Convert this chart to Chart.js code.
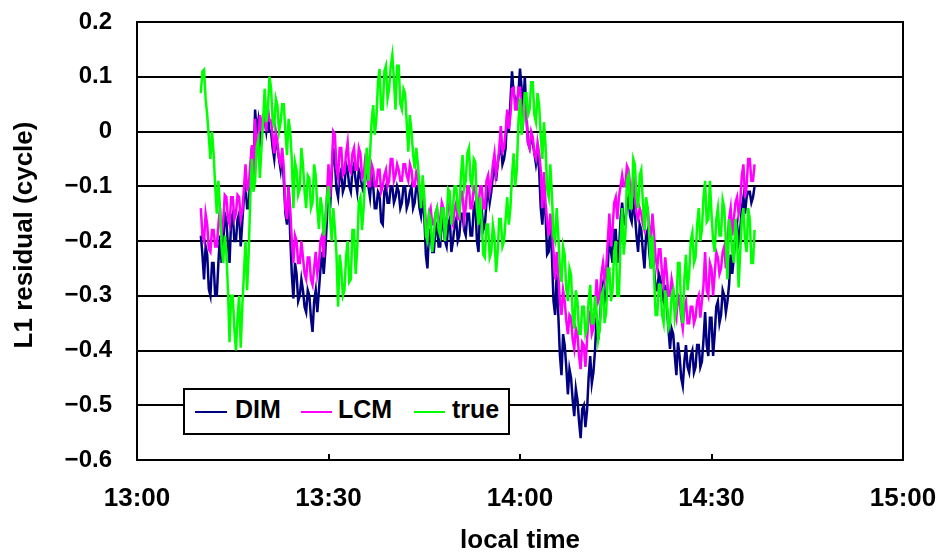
<!DOCTYPE html>
<html>
<head>
<meta charset="utf-8">
<script src="https://cdn.jsdelivr.net/npm/chart.js@4.4.1/dist/chart.umd.min.js"></script>
<style>
  html, body { margin: 0; padding: 0; background: #ffffff; }
  #wrap { position: relative; width: 941px; height: 556px; }
  #c { position: absolute; left: 0; top: 0; }
  #legend { position: absolute; left: 183px; top: 388px; width: 327px; height: 47px; box-sizing: border-box;
            border: 2px solid #000; background: #fff; }
  .sw { position: absolute; height: 2px; top: 21px; }
  .lt { position: absolute; top: 7px; font: bold 25px/25px "Liberation Sans", Arial, sans-serif; color: #000; white-space: nowrap; }
</style>
</head>
<body>
<div id="wrap">
  <canvas id="c" width="941" height="556"></canvas>
  <div id="legend">
    <div class="sw" style="left:10px;width:32px;background:#000080"></div><div class="lt" style="left:50px">DIM</div>
    <div class="sw" style="left:116px;width:31px;background:#ff00ff"></div><div class="lt" style="left:153px">LCM</div>
    <div class="sw" style="left:229px;width:31px;background:#00ff00"></div><div class="lt" style="left:267px">true</div>
  </div>
</div>
<script>
// sampling grid: minutes after 13:00
const startMin = 10;
const stepMin = 0.25;

const xTickValues = [0, 30, 60, 90, 120];
const xTickLabels = ['13:00', '13:30', '14:00', '14:30', '15:00'];
const yTickValues = [0.2, 0.1, 0, -0.1, -0.2, -0.3, -0.4, -0.5, -0.6];
const yTickLabels = ['0.2', '0.1', '0', '\u22120.1', '\u22120.2', '\u22120.3', '\u22120.4', '\u22120.5', '\u22120.6'];
const yTitle = 'L1 residual (cycle)';
const xTitle = 'local time';

const seriesNames = ['DIM', 'LCM', 'true'];

const dimValues = [
  -0.19,-0.225, -0.27,-0.21, -0.225,-0.288, -0.3,-0.24, -0.24,-0.3, -0.3,-0.24, -0.19,-0.24, -0.21,-0.15, -0.16,-0.21, -0.24,-0.16,
  -0.15,-0.2, -0.2,-0.16, -0.15,-0.21, -0.165,-0.12, -0.1,-0.14, -0.14,-0.08, -0.03,-0.08, 0.04,0.0, 0.02,-0.02, 0.0,0.02,
  0.02,0.0, 0.03,0.0, 0.0,-0.03, -0.05,-0.01, -0.03,-0.05, -0.07,-0.04, -0.09,-0.15, -0.17,-0.1, -0.19,-0.26, -0.305,-0.24,
  -0.26,-0.31, -0.3,-0.27, -0.29,-0.32, -0.33,-0.29, -0.3,-0.34, -0.366,-0.31, -0.29,-0.33, -0.29,-0.25, -0.22,-0.26, -0.22,-0.16,
  -0.08,-0.14, -0.08,-0.03, -0.056,-0.105, -0.12,-0.08, -0.07,-0.11, -0.1,-0.06, -0.07,-0.1, -0.11,-0.07, -0.06,-0.09, -0.11,-0.07,
  -0.08,-0.1, -0.11,-0.08, -0.07,-0.1, -0.12,-0.08, -0.1,-0.14, -0.14,-0.11, -0.116,-0.165, -0.17,-0.11, -0.1,-0.13, -0.13,-0.1,
  -0.1,-0.13, -0.12,-0.1, -0.11,-0.14, -0.13,-0.1, -0.1,-0.14, -0.13,-0.11, -0.1,-0.14, -0.13,-0.1, -0.1,-0.14, -0.155,-0.13,
  -0.15,-0.225, -0.25,-0.18, -0.18,-0.22, -0.22,-0.18, -0.17,-0.21, -0.21,-0.16, -0.17,-0.2, -0.21,-0.17, -0.16,-0.22, -0.2,-0.17,
  -0.16,-0.2, -0.19,-0.15, -0.15,-0.18, -0.19,-0.15, -0.15,-0.19, -0.19,-0.14, -0.13,-0.2, -0.22,-0.14, -0.14,-0.18, -0.17,-0.13,
  -0.1,-0.13, -0.11,-0.08, -0.06,-0.09, -0.06,-0.04, -0.02,-0.06, -0.05,-0.03, 0.035,0.0, 0.054,0.11, 0.07,0.06, 0.05,0.07,
  0.115,0.08, 0.04,0.1, 0.035,-0.02, -0.03,-0.01, -0.02,-0.04, -0.06,-0.04, -0.07,-0.14, -0.17,-0.12, -0.15,-0.225, -0.22,-0.17,
  -0.225,-0.31, -0.335,-0.26, -0.335,-0.408, -0.445,-0.37, -0.39,-0.43, -0.48,-0.434, -0.45,-0.49, -0.52,-0.47, -0.49,-0.53, -0.56,-0.507,
  -0.5,-0.54, -0.51,-0.45, -0.41,-0.46, -0.44,-0.4, -0.34,-0.38, -0.35,-0.3, -0.28,-0.31, -0.3,-0.25, -0.18,-0.22, -0.24,-0.18,
  -0.18,-0.24, -0.22,-0.16, -0.13,-0.165, -0.17,-0.13, -0.12,-0.155, -0.165,-0.13, -0.15,-0.19, -0.22,-0.17, -0.18,-0.22, -0.25,-0.19,
  -0.18,-0.22, -0.25,-0.21, -0.25,-0.29, -0.29,-0.26, -0.27,-0.3, -0.31,-0.28, -0.32,-0.36, -0.397,-0.36, -0.37,-0.41, -0.445,-0.385,
  -0.41,-0.45, -0.465,-0.42, -0.39,-0.43, -0.44,-0.41, -0.4,-0.44, -0.43,-0.39, -0.39,-0.43, -0.42,-0.38, -0.33,-0.39, -0.41,-0.34,
  -0.34,-0.41, -0.37,-0.32, -0.31,-0.35, -0.335,-0.29, -0.3,-0.33, -0.31,-0.28, -0.225,-0.26, -0.23,-0.19, -0.17,-0.2, -0.18,-0.14,
  -0.12,-0.15, -0.12,-0.11, -0.11,-0.13, -0.12,-0.1
];

const lcmValues = [
  -0.14,-0.19, -0.2,-0.15, -0.17,-0.215, -0.22,-0.18, -0.18,-0.21, -0.21,-0.17, -0.14,-0.19, -0.165,-0.116, -0.12,-0.16, -0.17,-0.12,
  -0.12,-0.16, -0.15,-0.116, -0.12,-0.16, -0.145,-0.105, -0.06,-0.105, -0.1,-0.06, -0.025,-0.08, 0.023,-0.032, -0.02,0.03, 0.0,0.03,
  0.03,0.0, 0.045,0.02, 0.02,-0.01, -0.04,0.0, -0.02,-0.05, -0.06,-0.03, -0.068,-0.14, -0.16,-0.1, -0.14,-0.2, -0.24,-0.19,
  -0.2,-0.24, -0.24,-0.2, -0.23,-0.26, -0.27,-0.23, -0.23,-0.27, -0.28,-0.25, -0.22,-0.26, -0.24,-0.2, -0.19,-0.23, -0.16,-0.12,
  -0.06,-0.12, -0.068,0.0, -0.006,-0.068, -0.085,-0.03, -0.03,-0.08, -0.075,-0.04, -0.02,-0.07, -0.075,-0.04, -0.03,-0.07, -0.07,-0.03,
  -0.04,-0.085, -0.08,-0.05, -0.06,-0.1, -0.1,-0.06, -0.07,-0.1, -0.1,-0.07, -0.07,-0.11, -0.1,-0.08, -0.07,-0.1, -0.09,-0.05,
  -0.05,-0.09, -0.08,-0.06, -0.07,-0.09, -0.09,-0.06, -0.06,-0.08, -0.09,-0.06, -0.07,-0.1, -0.1,-0.075, -0.085,-0.11, -0.125,-0.1,
  -0.13,-0.165, -0.18,-0.15, -0.14,-0.17, -0.17,-0.15, -0.14,-0.17, -0.16,-0.13, -0.14,-0.17, -0.165,-0.14, -0.13,-0.16, -0.17,-0.14,
  -0.13,-0.16, -0.16,-0.11, -0.11,-0.16, -0.14,-0.1, -0.1,-0.14, -0.14,-0.1, -0.1,-0.14, -0.14,-0.1, -0.1,-0.14, -0.14,-0.09,
  -0.08,-0.11, -0.09,-0.06, -0.04,-0.08, -0.06,-0.03, 0.01,-0.037, -0.03,0.0, 0.04,0.005, 0.03,0.078, 0.08,0.04, 0.04,0.08,
  0.08,0.04, 0.02,0.07, 0.023,-0.02, -0.03,0.0, -0.01,-0.04, -0.05,-0.02, -0.04,-0.07, -0.14,-0.074, -0.13,-0.165, -0.19,-0.15,
  -0.18,-0.22, -0.27,-0.22, -0.262,-0.31, -0.335,-0.29, -0.31,-0.345, -0.37,-0.335, -0.34,-0.38, -0.397,-0.36, -0.37,-0.41, -0.434,-0.385,
  -0.39,-0.43, -0.38,-0.34, -0.33,-0.37, -0.36,-0.32, -0.27,-0.31, -0.3,-0.26, -0.24,-0.27, -0.25,-0.2, -0.15,-0.21, -0.178,-0.13,
  -0.12,-0.16, -0.12,-0.1, -0.08,-0.1, -0.1,-0.063, -0.07,-0.1, -0.12,-0.08, -0.12,-0.15, -0.16,-0.14, -0.15,-0.17, -0.18,-0.14,
  -0.14,-0.18, -0.19,-0.15, -0.19,-0.23, -0.25,-0.215, -0.215,-0.26, -0.28,-0.23, -0.26,-0.3, -0.3,-0.27, -0.288,-0.325, -0.34,-0.3,
  -0.31,-0.34, -0.36,-0.32, -0.31,-0.35, -0.35,-0.32, -0.32,-0.35, -0.34,-0.31, -0.3,-0.34, -0.31,-0.28, -0.22,-0.29, -0.3,-0.24,
  -0.25,-0.3, -0.26,-0.22, -0.23,-0.26, -0.25,-0.22, -0.21,-0.25, -0.2,-0.16, -0.14,-0.19, -0.16,-0.13, -0.12,-0.15, -0.13,-0.08,
  -0.06,-0.12, -0.1,-0.05, -0.05,-0.09, -0.09,-0.06
];

const trueValues = [
  0.07,0.11, 0.113,0.06, 0.03,-0.01, -0.05,0.0, -0.04,-0.1, -0.15,-0.09, -0.14,-0.21, -0.24,-0.19, -0.22,-0.29, -0.385,-0.3,
  -0.3,-0.36, -0.4,-0.34, -0.3,-0.395, -0.32,-0.26, -0.2,-0.29, -0.22,-0.12, -0.05,-0.11, -0.09,-0.03, -0.015,-0.085, -0.03,0.017,
  0.078,0.017, 0.04,0.1, 0.08,0.02, 0.01,0.06, 0.048,0.0, 0.017,0.05, 0.05,0.0, -0.043,0.023, 0.0,-0.05, -0.14,-0.056,
  -0.07,-0.116, -0.105,-0.03, -0.06,-0.11, -0.14,-0.08, -0.085,-0.14, -0.13,-0.06, -0.08,-0.14, -0.178,-0.12, -0.14,-0.19, -0.165,-0.12,
  -0.1,-0.156, -0.2,-0.14, -0.178,-0.225, -0.32,-0.225, -0.25,-0.3, -0.29,-0.23, -0.2,-0.275, -0.27,-0.18, -0.18,-0.26, -0.215,-0.13,
  -0.12,-0.18, -0.14,-0.08, -0.03,-0.09, -0.043,0.017, 0.048,-0.006, 0.023,0.09, 0.114,0.04, 0.04,0.11, 0.12,0.06, 0.078,0.12,
  0.14,0.096, 0.04,0.12, 0.12,0.05, 0.04,0.078, 0.07,0.017, -0.037,0.03, 0.0,-0.04, -0.068,-0.03, -0.06,-0.1, -0.14,-0.08,
  -0.116,-0.19, -0.2,-0.15, -0.16,-0.22, -0.19,-0.15, -0.14,-0.18, -0.19,-0.14, -0.14,-0.2, -0.165,-0.105, -0.11,-0.17, -0.14,-0.1,
  -0.1,-0.14, -0.15,-0.08, -0.043,-0.105, -0.09,-0.04, -0.03,-0.09, -0.1,-0.05, -0.056,-0.14, -0.17,-0.12, -0.165,-0.225, -0.23,-0.17,
  -0.17,-0.23, -0.22,-0.17, -0.19,-0.257, -0.22,-0.16, -0.16,-0.21, -0.2,-0.16, -0.12,-0.17, -0.14,-0.08, -0.04,-0.1, -0.07,0.017,
  0.06,-0.006, 0.017,0.07, 0.07,0.03, 0.04,0.09, 0.09,0.03, 0.017,0.07, 0.048,-0.01, -0.05,0.017, -0.025,-0.105, -0.12,-0.06,
  -0.116,-0.19, -0.2,-0.14, -0.19,-0.25, -0.275,-0.21, -0.225,-0.288, -0.31,-0.25, -0.262,-0.335, -0.36,-0.29, -0.31,-0.37, -0.37,-0.32,
  -0.32,-0.37, -0.36,-0.31, -0.28,-0.35, -0.35,-0.3, -0.33,-0.38, -0.36,-0.3, -0.29,-0.35, -0.33,-0.25, -0.25,-0.31, -0.29,-0.22,
  -0.2,-0.3, -0.3,-0.2, -0.14,-0.225, -0.19,-0.09, -0.08,-0.14, -0.14,-0.05, -0.06,-0.12, -0.14,-0.08, -0.07,-0.13, -0.18,-0.12,
  -0.14,-0.19, -0.25,-0.19, -0.262,-0.335, -0.335,-0.28, -0.28,-0.335, -0.35,-0.29, -0.31,-0.36, -0.35,-0.3, -0.29,-0.34, -0.32,-0.24,
  -0.24,-0.33, -0.35,-0.27, -0.225,-0.29, -0.26,-0.2, -0.185,-0.24, -0.23,-0.17, -0.14,-0.2, -0.18,-0.12, -0.09,-0.165, -0.16,-0.09,
  -0.15,-0.2, -0.22,-0.16, -0.14,-0.19, -0.19,-0.125, -0.14,-0.2, -0.27,-0.16, -0.18,-0.22, -0.24,-0.16, -0.19,-0.285, -0.22,-0.16,
  -0.14,-0.2, -0.22,-0.14, -0.16,-0.24, -0.24,-0.18
];

function toPoints(values) {
  return values.map((v, i) => ({ x: startMin + i * stepMin, y: v }));
}

const FONT = '"Liberation Sans", Arial, sans-serif';

const framePlugin = {
  id: 'frame',
  afterDraw(chart) {
    const { ctx, chartArea: a, scales } = chart;
    ctx.save();
    ctx.strokeStyle = '#000';
    ctx.lineWidth = 2;
    ctx.strokeRect(a.left, a.top, a.right - a.left, a.bottom - a.top);
    ctx.beginPath();
    xTickValues.forEach(v => {
      const px = Math.round(scales.x.getPixelForValue(v));
      ctx.moveTo(px, a.bottom);
      ctx.lineTo(px, a.bottom - 6);
    });
    ctx.stroke();
    // vertical axis title
    ctx.translate(25, 235);
    ctx.rotate(-Math.PI / 2);
    ctx.fillStyle = '#000';
    ctx.font = 'bold 26px ' + FONT;
    ctx.textAlign = 'center';
    ctx.textBaseline = 'middle';
    ctx.fillText(yTitle, 0, 0);
    ctx.restore();
  }
};

new Chart(document.getElementById('c'), {
  type: 'line',
  data: {
    datasets: [
      { label: seriesNames[0], data: toPoints(dimValues), borderColor: '#000080', backgroundColor: '#000080', order: 3 },
      { label: seriesNames[1], data: toPoints(lcmValues), borderColor: '#ff00ff', backgroundColor: '#ff00ff', order: 2 },
      { label: seriesNames[2], data: toPoints(trueValues), borderColor: '#00ff00', backgroundColor: '#00ff00', order: 1 }
    ]
  },
  options: {
    responsive: false,
    animation: false,
    devicePixelRatio: 1,
    layout: { padding: { top: 22, right: 38, left: 0, bottom: 0 } },
    elements: {
      point: { radius: 0 },
      line: { borderWidth: 2.5, tension: 0, stepped: false }
    },
    plugins: { legend: { display: false }, tooltip: { enabled: false } },
    scales: {
      x: {
        type: 'linear',
        min: 0, max: 120,
        afterBuildTicks(scale) { scale.ticks = xTickValues.map(v => ({ value: v })); },
        afterFit(scale) {
          scale.height = 96;
          scale.paddingLeft = 0; scale.paddingRight = 0; scale.paddingTop = 0; scale.paddingBottom = 0;
        },
        ticks: {
          callback: (v) => xTickLabels[xTickValues.indexOf(v)],
          font: { family: FONT, size: 26, weight: 'bold' },
          color: '#000',
          padding: 23,
          maxRotation: 0
        },
        grid: { display: false, drawTicks: false },
        border: { display: false },
        title: {
          display: true, text: xTitle, color: '#000',
          font: { family: FONT, size: 26, weight: 'bold' },
          padding: { top: 0, bottom: 0 }
        }
      },
      y: {
        type: 'linear',
        min: -0.6, max: 0.2,
        afterBuildTicks(scale) { scale.ticks = yTickValues.map(v => ({ value: v })); },
        afterFit(scale) {
          scale.width = 137;
          scale.paddingLeft = 0; scale.paddingRight = 0; scale.paddingTop = 0; scale.paddingBottom = 0;
        },
        ticks: {
          callback: (v) => yTickLabels[yTickValues.findIndex(t => Math.abs(t - v) < 1e-9)],
          font: { family: FONT, size: 24, weight: 'bold' },
          color: '#000',
          padding: 25
        },
        grid: { color: '#000', lineWidth: 2, drawTicks: false },
        border: { display: false },
        title: { display: false }
      }
    }
  },
  plugins: [framePlugin]
});
</script>
</body>
</html>
